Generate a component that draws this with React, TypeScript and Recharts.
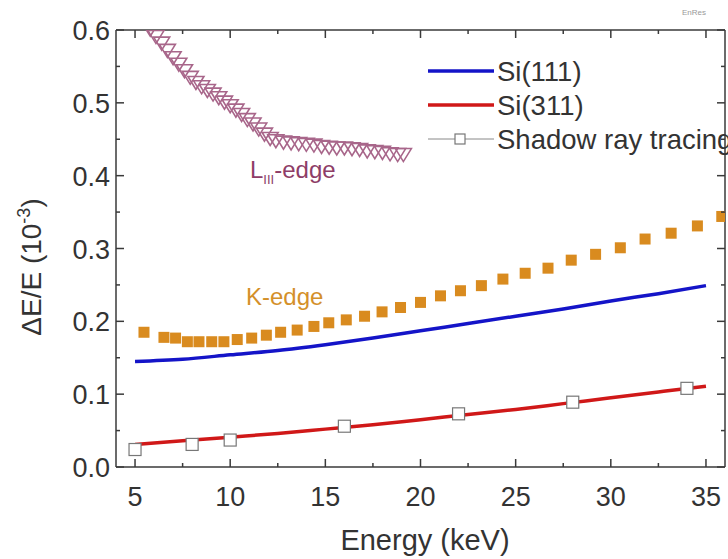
import React from 'react';
import {
    ComposedChart,
    Line,
    Scatter,
    XAxis,
    YAxis,
    ReferenceLine,
    Legend,
} from 'recharts';

// Si(111) resolution curve
const si111Energy = [5, 7.5, 10, 12.5, 15, 17.5, 20, 22.5, 25, 27.5, 30, 32.5, 35];
const si111Res = [0.145, 0.148, 0.154, 0.160, 0.168, 0.177, 0.187, 0.197, 0.207, 0.217, 0.228, 0.238, 0.249];

// Si(311) resolution curve
const si311Energy = [5, 7.5, 10, 12.5, 15, 17.5, 20, 22.5, 25, 27.5, 30, 32.5, 35];
const si311Res = [0.031, 0.036, 0.041, 0.046, 0.052, 0.058, 0.065, 0.072, 0.079, 0.087, 0.095, 0.103, 0.111];

// shadow ray tracing points
const shadowEnergy = [5, 8, 10, 16, 22, 28, 34];
const shadowRes = [0.024, 0.031, 0.037, 0.056, 0.073, 0.089, 0.108];

// K-edge points
const kEdgeEnergy = [
    5.47, 6.52, 7.13, 7.75, 8.36, 9.03, 9.67, 10.37, 11.13, 11.9, 12.65, 13.52, 14.4, 15.18, 16.1, 17.06,
    17.98, 18.95, 20.0, 21.05, 22.1, 23.2, 24.33, 25.5, 26.7, 27.92, 29.2, 30.5, 31.8, 33.17, 34.55, 35.83,
];
const kEdgeRes = [
    0.185, 0.178, 0.177, 0.172, 0.172, 0.172, 0.172, 0.175, 0.177, 0.181, 0.185, 0.188, 0.193, 0.198, 0.202, 0.207,
    0.213, 0.219, 0.226, 0.235, 0.242, 0.249, 0.258, 0.266, 0.273, 0.284, 0.292, 0.301, 0.313, 0.321, 0.331, 0.344,
];

// L_III-edge points
const lEdgeEnergy = [
    5.8, 6.1, 6.4, 6.7, 7.0, 7.3, 7.6, 7.9, 8.2, 8.5, 8.8, 9.1, 9.4, 9.7, 10.0, 10.3, 10.6, 10.9, 11.2, 11.5,
    11.8, 12.1, 12.4, 12.8, 13.2, 13.6, 14.0, 14.4, 14.8, 15.2, 15.6, 16.0, 16.4, 16.8, 17.2, 17.6, 18.0, 18.4,
    18.8, 19.1,
];
const lEdgeRes = [
    0.601, 0.591, 0.582, 0.572, 0.562, 0.553, 0.544, 0.535, 0.528, 0.522, 0.517, 0.512, 0.507, 0.501, 0.496,
    0.490, 0.484, 0.477, 0.471, 0.464, 0.457, 0.451, 0.448, 0.446, 0.445, 0.444, 0.443, 0.442, 0.440, 0.439,
    0.438, 0.438, 0.437, 0.436, 0.434, 0.433, 0.432, 0.430, 0.429, 0.429,
];

const xTicks = [5, 7.5, 10, 12.5, 15, 17.5, 20, 22.5, 25, 27.5, 30, 32.5, 35];
const xLabels = [5, 10, 15, 20, 25, 30, 35];
const yTicks = [0, 0.05, 0.1, 0.15, 0.2, 0.25, 0.3, 0.35, 0.4, 0.45, 0.5, 0.55, 0.6];

const zip = (xs: number[], ys: number[]) => xs.map((x, i) => ({ x, y: ys[i] }));

const W = 728;
const H = 559;
const PLOT_LEFT = 116;
const PLOT_RIGHT = 725;
const PLOT_TOP = 30;
const PLOT_BOTTOM = 467;
const AXIS = '#3a3a3a';
const TEXT = '#333';
const FONT = '"Liberation Sans", Arial, sans-serif';

const XTick = (props: any) => {
    const { x, payload } = props;
    const v = payload.value;
    const major = xLabels.includes(v);
    const len = major ? 8 : 4;
    return (
        <g>
            <line x1={x} x2={x} y1={PLOT_BOTTOM} y2={PLOT_BOTTOM - len} stroke={AXIS} strokeWidth={1.5} />
            <line x1={x} x2={x} y1={PLOT_TOP} y2={PLOT_TOP + len} stroke={AXIS} strokeWidth={1.5} />
            {major && (
                <text x={x} y={PLOT_BOTTOM + 39} textAnchor="middle" fontSize={27} fill={TEXT} fontFamily={FONT}>
                    {v}
                </text>
            )}
        </g>
    );
};

const YTick = (props: any) => {
    const { y, payload } = props;
    const v = payload.value;
    const major = Math.round(v * 100) % 10 === 0;
    const len = major ? 8 : 4;
    return (
        <g>
            <line x1={PLOT_LEFT} x2={PLOT_LEFT + len} y1={y} y2={y} stroke={AXIS} strokeWidth={1.5} />
            <line x1={PLOT_RIGHT} x2={PLOT_RIGHT - len} y1={y} y2={y} stroke={AXIS} strokeWidth={1.5} />
            {major && (
                <text x={PLOT_LEFT - 6} y={y + 10} textAnchor="end" fontSize={27} fill={TEXT} fontFamily={FONT}>
                    {v.toFixed(1)}
                </text>
            )}
        </g>
    );
};

const Square = (props: any) => {
    const { cx, cy } = props;
    return <rect x={cx - 5.5} y={cy - 5.5} width={11} height={11} fill="#d98b1f" />;
};

const OpenSquare = (props: any) => {
    const { cx, cy } = props;
    return <rect x={cx - 6} y={cy - 6} width={12} height={12} fill="#fff" stroke="#777" strokeWidth={1.2} />;
};

const DownTriangle = (props: any) => {
    const { cx, cy } = props;
    return (
        <path
            d={`M${cx - 8},${cy - 6} L${cx + 8},${cy - 6} L${cx},${cy + 7} Z`}
            fill="none"
            stroke="#a8668a"
            strokeWidth={1.6}
        />
    );
};

const LegendBox = () => (
    <svg width={308} height={110} style={{ overflow: 'visible' }}>
        <line x1={8} x2={74} y1={21} y2={21} stroke="#1414c8" strokeWidth={3.5} />
        <text x={77} y={31} fontSize={27.5} fill={TEXT} fontFamily={FONT}>Si(111)</text>
        <line x1={8} x2={74} y1={55} y2={55} stroke="#d01818" strokeWidth={3.5} />
        <text x={77} y={65} fontSize={27.5} fill={TEXT} fontFamily={FONT}>Si(311)</text>
        <line x1={8} x2={74} y1={89} y2={89} stroke="#888" strokeWidth={1} />
        <rect x={35} y={84} width={10} height={10} fill="#fff" stroke="#777" strokeWidth={1.2} />
        <text x={77} y={99} fontSize={27.5} fill={TEXT} fontFamily={FONT}>Shadow ray tracing</text>
    </svg>
);

export default function App() {
    return (
        <div style={{ position: 'absolute', left: 0, top: 0, width: W, height: H, background: '#fff', overflow: 'hidden' }}>
            <ComposedChart width={W} height={H} margin={{ top: PLOT_TOP, right: W - PLOT_RIGHT, bottom: 0, left: 0 }}>
                <XAxis
                    dataKey="x"
                    type="number"
                    domain={[4, 36]}
                    ticks={xTicks}
                    interval={0}
                    height={H - PLOT_BOTTOM}
                    tickLine={false}
                    tick={<XTick />}
                    axisLine={{ stroke: AXIS, strokeWidth: 1.5 }}
                    allowDataOverflow
                />
                <YAxis
                    dataKey="y"
                    type="number"
                    domain={[0, 0.6]}
                    ticks={yTicks}
                    interval={0}
                    width={PLOT_LEFT}
                    tickLine={false}
                    tick={<YTick />}
                    axisLine={{ stroke: AXIS, strokeWidth: 1.5 }}
                    allowDataOverflow
                />
                <ReferenceLine y={0.6} stroke={AXIS} strokeWidth={1.5} />
                <ReferenceLine x={36} stroke={AXIS} strokeWidth={1.5} />
                <Line
                    data={zip(si111Energy, si111Res)}
                    dataKey="y"
                    type="monotone"
                    stroke="#1414c8"
                    strokeWidth={3.5}
                    dot={false}
                    isAnimationActive={false}
                />
                <Line
                    data={zip(si311Energy, si311Res)}
                    dataKey="y"
                    type="monotone"
                    stroke="#d01818"
                    strokeWidth={3.5}
                    dot={false}
                    isAnimationActive={false}
                />
                <Scatter data={zip(kEdgeEnergy, kEdgeRes)} dataKey="y" shape={<Square />} isAnimationActive={false} />
                <Scatter data={zip(lEdgeEnergy, lEdgeRes)} dataKey="y" shape={<DownTriangle />} isAnimationActive={false} />
                <Scatter data={zip(shadowEnergy, shadowRes)} dataKey="y" shape={<OpenSquare />} isAnimationActive={false} />
                <Legend
                    layout="vertical"
                    align="center"
                    verticalAlign="middle"
                    content={<LegendBox />}
                    wrapperStyle={{ left: 420, top: 50, width: 308, height: 110 }}
                />
            </ComposedChart>
            <svg width={W} height={H} style={{ position: 'absolute', left: 0, top: 0, pointerEvents: 'none' }}>
                <text x={425} y={550} textAnchor="middle" fontSize={29} fill={TEXT} fontFamily={FONT}>
                    Energy (keV)
                </text>
                <text transform="translate(41,267) rotate(-90)" textAnchor="middle" fontSize={28} fill={TEXT} fontFamily={FONT}>
                    ΔE/E (10
                    <tspan fontSize={18} dy={-11}>-3</tspan>
                    <tspan dy={11}>)</tspan>
                </text>
                <text x={250} y={178} fontSize={24} fill="#8e3d67" fontFamily={FONT}>
                    L<tspan fontSize={13} dy={6}>III</tspan>
                    <tspan dy={-6}>-edge</tspan>
                </text>
                <text x={246} y={305} fontSize={24} fill="#d4902a" fontFamily={FONT}>K-edge</text>
                <text x={682} y={15} fontSize={8} fill="#999" fontFamily={FONT}>EnRes</text>
            </svg>
        </div>
    );
}
